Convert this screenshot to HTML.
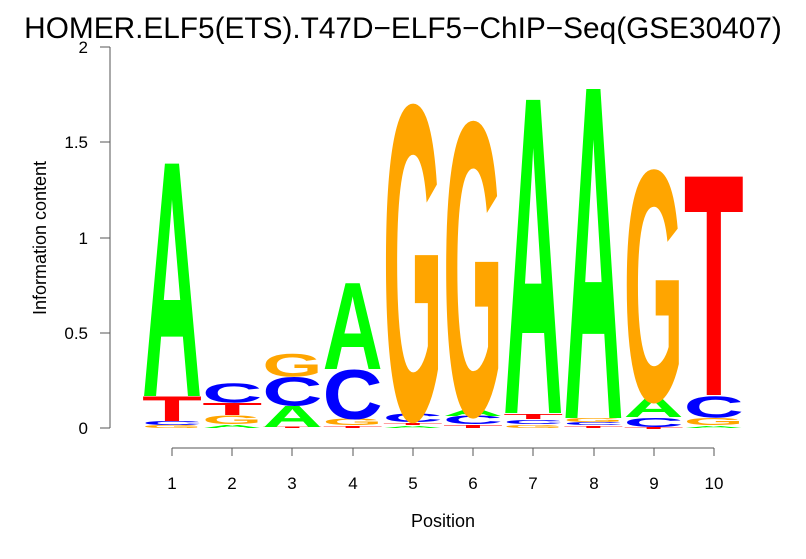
<!DOCTYPE html>
<html><head><style>body{margin:0;background:#fff}svg{display:block}</style></head><body>
<svg width="806" height="559" xmlns="http://www.w3.org/2000/svg" font-family="Liberation Sans, sans-serif">
<rect width="806" height="559" fill="#fff"/>
<text x="403" y="38" font-size="29.8" text-anchor="middle">HOMER.ELF5(ETS).T47D−ELF5−ChIP−Seq(GSE30407)</text>
<g stroke="#555" stroke-width="1" fill="none">
<line x1="110" y1="47" x2="110" y2="428"/>
<line x1="100" y1="47" x2="110" y2="47"/>
<line x1="100" y1="142" x2="110" y2="142"/>
<line x1="100" y1="238" x2="110" y2="238"/>
<line x1="100" y1="333" x2="110" y2="333"/>
<line x1="100" y1="428" x2="110" y2="428"/>
<line x1="172" y1="448" x2="714" y2="448"/>
<line x1="172" y1="448" x2="172" y2="456"/><line x1="232" y1="448" x2="232" y2="456"/><line x1="292" y1="448" x2="292" y2="456"/><line x1="353" y1="448" x2="353" y2="456"/><line x1="413" y1="448" x2="413" y2="456"/><line x1="473" y1="448" x2="473" y2="456"/><line x1="533" y1="448" x2="533" y2="456"/><line x1="594" y1="448" x2="594" y2="456"/><line x1="654" y1="448" x2="654" y2="456"/><line x1="714" y1="448" x2="714" y2="456"/>
</g>
<g font-size="17" text-anchor="end">
<text x="88" y="53">2</text><text x="88" y="148">1.5</text><text x="88" y="244">1</text><text x="88" y="339">0.5</text><text x="88" y="434">0</text>
</g>
<g font-size="17" text-anchor="middle">
<text x="172" y="489">1</text><text x="232" y="489">2</text><text x="292" y="489">3</text><text x="353" y="489">4</text><text x="413" y="489">5</text><text x="473" y="489">6</text><text x="533" y="489">7</text><text x="594" y="489">8</text><text x="654" y="489">9</text><text x="714" y="489">10</text>
</g>
<text x="443" y="527" font-size="18" text-anchor="middle">Position</text>
<text transform="translate(46,238) rotate(-90)" font-size="18" text-anchor="middle">Information content</text>
<g id="logo" font-weight="bold" font-size="100"></g>
<script>
var C={A:"#00ff00",C:"#0000ff",G:"#ffa500",T:"#ff0000"};
var cols=[
[["G",425,428],["C",421,425],["T",397,421],["A",163,396]],
[["A",425,428],["G",416,424],["T",403,415],["C",383,402]],
[["T",427,428],["A",406,427],["C",377,405],["G",354,376]],
[["T",426,428],["G",419,425],["C",370,418],["A",283,369]],
[["A",426,428],["T",423,425],["C",414,422],["G",106,413]],
[["T",425,428],["C",416,424],["A",409,416],["G",123,409]],
[["G",425,428],["C",420,424],["T",414,419],["A",99,413]],
[["T",426,428],["C",422,425],["G",418,422],["A",88,418]],
[["T",427,429],["C",418,427],["A",397,417],["G",171,396]],
[["A",426,428],["G",418,425],["C",396,417],["T",176,395]]];
var g=document.getElementById("logo"),ns="http://www.w3.org/2000/svg";
cols.forEach(function(c,i){var x0=142+i*60.2,w=60;
c.forEach(function(l){var h=l[2]-l[1];var round=(l[0]=="C"||l[0]=="G");var ov=round?68:69;
var t=document.createElementNS(ns,"text");t.textContent=l[0];
t.setAttribute("x",0);t.setAttribute("y",round?1.3:0);
t.setAttribute("textLength",100);t.setAttribute("lengthAdjust","spacingAndGlyphs");
t.setAttribute("fill",C[l[0]]);
t.setAttribute("transform","translate("+x0+","+l[2]+") scale("+(w/100)+","+(h/ov)+")");
g.appendChild(t);});});
</script>
</svg>
</body></html>
